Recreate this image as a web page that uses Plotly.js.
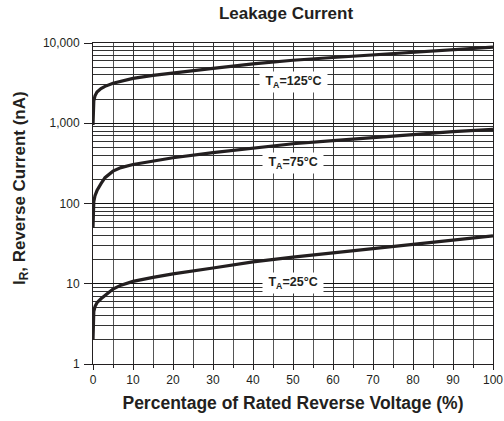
<!DOCTYPE html>
<html>
<head>
<meta charset="utf-8">
<script src="https://cdn.plot.ly/plotly-3.0.1.min.js"></script>
<style>html,body{margin:0;padding:0;background:#fff;}#chart{width:504px;height:421px;}</style>
</head>
<body>
<div id="chart"></div>
<script>
const voltagePct = [0, 0.2, 0.5, 1, 2, 3, 5, 7, 10, 15, 20, 30, 40, 50, 60, 70, 80, 90, 100];
const current125 = [950, 1900, 2200, 2450, 2700, 2880, 3150, 3350, 3620, 3950, 4250, 4830, 5500, 6100, 6600, 7100, 7650, 8200, 8900];
const current75 = [50, 105, 125, 145, 177, 210, 253, 280, 306, 340, 372, 430, 490, 555, 607, 665, 725, 785, 840];
const current25 = [2, 4.5, 5.2, 5.8, 6.5, 7.2, 8.6, 9.6, 10.7, 12.0, 13.3, 15.7, 18.7, 21.5, 24.2, 27.3, 30.6, 35, 39.6];
const yTickVals = [1, 10, 100, 1000, 10000];
const yTickText = ['1', '10', '100', '1,000', '10,000'];
const labelText = ['T<sub>A</sub>=125°C', 'T<sub>A</sub>=75°C', 'T<sub>A</sub>=25°C'];
const labelX = [50, 50, 50];
const labelY = [3300, 320, 10.2];

const FONT = 'Liberation Sans, Arial, sans-serif';
const lineStyle = {color: '#231f20', width: 3.2};
const traces = [current125, current75, current25].map(v => ({
  x: voltagePct, y: v, type: 'scatter', mode: 'lines', line: lineStyle, hoverinfo: 'skip'
}));

const annotations = labelText.map((t, i) => ({
  x: labelX[i], y: Math.log10(labelY[i]), xref: 'x', yref: 'y', text: '\u00a0' + t + '\u00a0', showarrow: false,
  bgcolor: '#ffffff', borderpad: 2,
  font: {family: FONT, size: 12.5, color: '#231f20', weight: 'bold'}
}));
annotations.push({
  x: -0.18, y: 0.548, xref: 'paper', yref: 'paper', xanchor: 'center', yanchor: 'middle',
  text: '<b>I<sub>R</sub>, Reverse Current (nA)</b>', textangle: -90, showarrow: false,
  font: {family: FONT, size: 17, color: '#231f20'}
});

const layout = {
  width: 504, height: 421,
  margin: {l: 93, r: 11, t: 43, b: 57},
  paper_bgcolor: '#fff', plot_bgcolor: '#fff',
  showlegend: false,
  font: {family: FONT, color: '#231f20'},
  title: {text: '<b>Leakage Current</b>', x: 0.4825, xref: 'paper', xanchor: 'center', y: 0.97, yanchor: 'middle',
          font: {size: 17, color: '#231f20'}},
  xaxis: {
    range: [0, 100], dtick: 10, tick0: 0,
    showgrid: true, gridcolor: '#333', gridwidth: 1,
    showline: true, linecolor: '#231f20', linewidth: 1, mirror: true,
    ticks: 'outside', ticklen: 5, tickcolor: '#231f20',
    minor: {dtick: 5, showgrid: true, gridcolor: '#555', gridwidth: 1, ticks: 'outside', ticklen: 3, tickcolor: '#231f20'},
    zeroline: false,
    tickfont: {size: 12, color: '#231f20'},
    title: {text: '<b>Percentage of Rated Reverse Voltage (%)</b>', font: {size: 17.5, color: '#231f20'}, standoff: 10}
  },
  yaxis: {
    type: 'log', range: [0, 4],
    tickmode: 'array', tickvals: yTickVals, ticktext: yTickText,
    showgrid: true, gridcolor: '#111', gridwidth: 1,
    showline: true, linecolor: '#231f20', linewidth: 1, mirror: true,
    ticks: 'outside', ticklen: 8, tickcolor: '#231f20', ticklabelstandoff: 2,
    minor: {tickmode: 'linear', dtick: 'D1', showgrid: true, gridcolor: '#333', gridwidth: 1, ticks: ''},
    zeroline: false,
    tickfont: {size: 12, color: '#231f20'}
  },
  annotations: annotations
};

Plotly.newPlot('chart', traces, layout, {displayModeBar: false, staticPlot: true});
</script>
</body>
</html>
